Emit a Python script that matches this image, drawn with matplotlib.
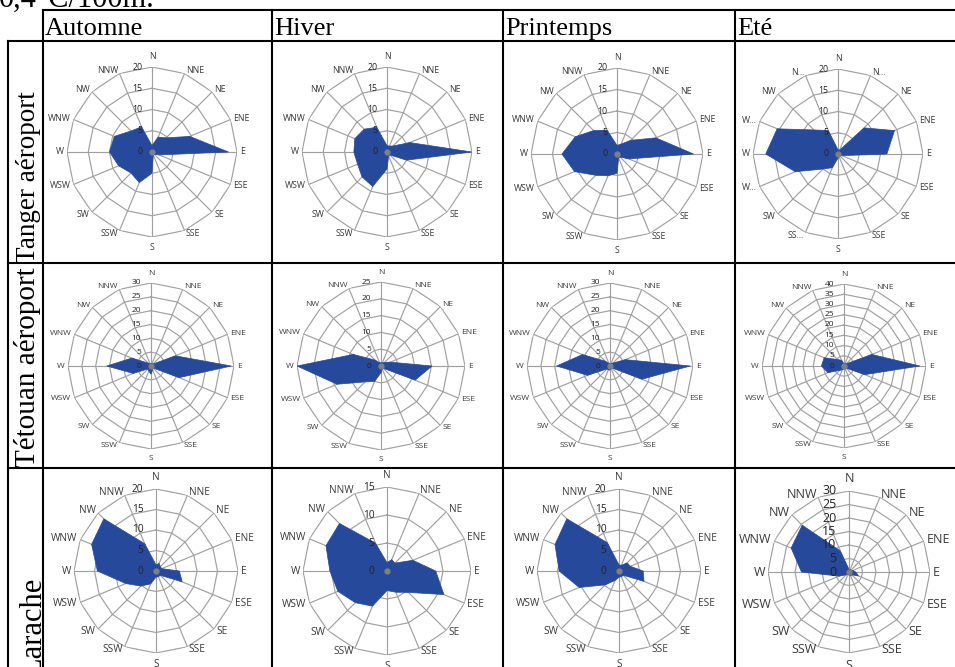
import numpy as np
import matplotlib

matplotlib.use("Agg")
import matplotlib.pyplot as plt                      # noqa: E402
from matplotlib.lines import Line2D                  # noqa: E402

W, H = 955, 667

DIRS = ["N", "NNE", "NE", "ENE", "E", "ESE", "SE", "SSE",
        "S", "SSW", "SW", "WSW", "W", "WNW", "NW", "NNW"]
# Excel truncated some labels in the summer Tanger chart
DIRS_TRUNC = ["N", "N…", "NE", "ENE", "E", "ESE", "SE", "SSE",
              "S", "SS…", "SW", "W…", "W", "W…", "NW", "N…"]
SEASONS = ["Automne", "Hiver", "Printemps", "Eté"]
STATIONS = ["Tanger aéroport", "Tétouan aéroport", "Larache"]

# wind frequency per direction, N then clockwise
tanger_automne    = [1.5, 3.8, 4.7, 9.6, 18.0, 1.8, 0.8, 0.8, 5.0, 7.8, 7.0, 8.5, 10.0, 9.6, 7.0, 6.4]
tanger_hiver      = [1.5, 1.5, 2.0, 5.8, 20.0, 5.0, 1.0, 1.0, 4.0, 8.8, 8.3, 7.5, 7.8, 8.2, 7.6, 6.3]
tanger_printemps  = [2.0, 2.5, 4.5, 9.8, 17.8, 3.0, 1.0, 1.0, 4.5, 5.5, 7.0, 10.7, 12.8, 10.5, 7.7, 6.0]
tanger_ete        = [1.0, 1.0, 8.7, 14.4, 11.5, 1.0, 0.5, 0.5, 1.0, 3.5, 5.0, 10.9, 17.0, 15.5, 8.0, 6.0]
tetouan_automne   = [1.0, 1.0, 1.0, 9.6, 29.0, 11.0, 1.0, 1.5, 3.0, 2.0, 1.5, 7.0, 16.0, 7.5, 1.5, 1.0]
tetouan_hiver     = [1.0, 1.0, 1.5, 3.0, 15.2, 11.0, 1.0, 1.0, 2.0, 5.0, 6.7, 14.2, 25.0, 9.0, 2.5, 1.0]
tetouan_printemps = [1.0, 1.0, 1.5, 6.0, 29.0, 12.5, 1.0, 1.0, 1.5, 1.5, 1.5, 8.8, 19.3, 10.8, 2.5, 1.0]
tetouan_ete       = [1.0, 1.5, 1.5, 14.7, 37.0, 11.0, 1.5, 1.5, 1.5, 2.0, 3.0, 8.5, 11.0, 10.5, 4.5, 3.0]
larache_automne   = [1.5, 2.0, 1.5, 1.5, 5.7, 6.9, 1.5, 1.5, 1.5, 3.4, 5.2, 8.0, 14.3, 17.0, 18.0, 7.2]
larache_hiver     = [1.5, 2.2, 2.0, 5.0, 8.7, 11.0, 5.4, 4.1, 3.5, 6.8, 8.0, 9.5, 10.2, 11.8, 12.0, 5.4]
larache_printemps = [1.5, 1.5, 2.8, 3.0, 5.9, 6.6, 1.5, 1.5, 1.5, 2.5, 4.8, 10.5, 14.6, 16.9, 18.0, 7.5]
larache_ete       = [1.0, 1.0, 1.0, 1.5, 2.5, 3.8, 1.5, 1.5, 1.0, 1.0, 1.5, 4.0, 17.6, 23.2, 24.5, 8.5]

VALUES = [[tanger_automne, tanger_hiver, tanger_printemps, tanger_ete],
          [tetouan_automne, tetouan_hiver, tetouan_printemps, tetouan_ete],
          [larache_automne, larache_hiver, larache_printemps, larache_ete]]
RMAX = [[20, 20, 20, 20], [30, 25, 30, 40], [20, 15, 20, 30]]

# layout (pixels)
CENTERS = [[(152, 152), (387, 152), (617, 154), (838, 154)],
           [(151, 366), (381, 366), (610, 366), (844, 366)],
           [(156, 571), (387, 571), (619, 571), (849, 572)]]
RADII = [[85, 85, 86, 85], [83, 84, 83, 82], [82, 84, 82, 81]]
FONT_SIZES = [[6.3] * 4, [6.0] * 4, [7.3, 7.3, 7.3, 9.0]]
TICK_GAP = [[7] * 4, [7] * 4, [9, 9, 9, 9]]

BLUE = "#26499b"
GRID = "#a0a0a0"
LABEL = "#3a3a3a"
TICK = "#222222"
SERIF = "Liberation Serif"


def fx(x):
    return x / W


def fy(y):
    return 1 - y / H


def draw_rose(ax, values, rmax, labels, fs, gap):
    theta = np.deg2rad(np.arange(len(DIRS)) * 22.5)
    tc = np.append(theta, theta[0])
    ax.set_theta_zero_location("N")
    ax.set_theta_direction(-1)
    ax.set_ylim(0, rmax)
    ax.grid(False)
    ax.set_xticks([]); ax.set_yticks([])
    ax.spines["polar"].set_visible(False)

    for r in range(5, rmax + 1, 5):
        ax.plot(tc, np.full(tc.shape, r), color=GRID, lw=0.85, zorder=1)
    for t in theta:
        ax.plot([t, t], [0, rmax], color=GRID, lw=0.85, zorder=1)

    v = np.append(values, values[0])
    ax.fill(tc, v, color=BLUE, lw=0.5, zorder=2)
    ax.plot([0], [0], "o", color="#808080", ms=3.5, zorder=3)

    for t, lab in zip(theta, labels):
        s, c = np.sin(t), np.cos(t)
        if abs(s) < 0.01:
            ha, va, off = "center", ("bottom" if c > 0 else "top"), 4.5
        else:
            ha, va, off = ("left" if s > 0 else "right"), "center", 2.2
        ax.annotate(lab, xy=(t, rmax), xytext=(off * s, off * c), textcoords="offset points",
                    ha=ha, va=va, fontsize=fs, color=LABEL, family="Open Sans",
                    annotation_clip=False)
    for r in range(0, rmax + 1, 5):
        ax.annotate(str(r), xy=(0, r), xytext=(-gap, 0), textcoords="offset points",
                    ha="right", va="center", fontsize=fs, color=TICK, family="Open Sans",
                    annotation_clip=False, zorder=4)


fig = plt.figure(figsize=(W / 100, H / 100), dpi=100)

# table grid
def hline(y, x0, x1):
    fig.add_artist(Line2D([fx(x0), fx(x1)], [fy(y), fy(y)], color="black", lw=1.5))


def vline(x, y0, y1):
    fig.add_artist(Line2D([fx(x), fx(x)], [fy(y0), fy(y1)], color="black", lw=1.5))


hline(10, 43, W)
hline(41, 8, W)
hline(263, 8, W)
hline(468, 8, W)
vline(8, 41, H)
for x in (43, 272, 503, 735):
    vline(x, 10, H)

fig.text(fx(155), fy(7), "0,4°C/100m.", ha="right", va="baseline", fontsize=22, family=SERIF)
for x, season in zip((45, 274, 505, 737), SEASONS):
    fig.text(fx(x), fy(35), season, ha="left", va="baseline", fontsize=19, family=SERIF)

for (x, y, size), station in zip(((35, 263, 19.5), (35, 467, 21), (41, 676, 22)), STATIONS):
    fig.text(fx(x), fy(y), station, rotation=90, rotation_mode="anchor",
             ha="left", va="baseline", fontsize=size, family=SERIF)

for i in range(3):
    for j in range(4):
        cx, cy = CENTERS[i][j]
        R = RADII[i][j]
        ax = fig.add_axes([fx(cx - R), fy(cy + R), 2 * R / W, 2 * R / H], projection="polar")
        labels = DIRS_TRUNC if (i, j) == (0, 3) else DIRS
        draw_rose(ax, VALUES[i][j], RMAX[i][j], labels, FONT_SIZES[i][j], TICK_GAP[i][j])

fig.savefig("out.png", dpi=100)
